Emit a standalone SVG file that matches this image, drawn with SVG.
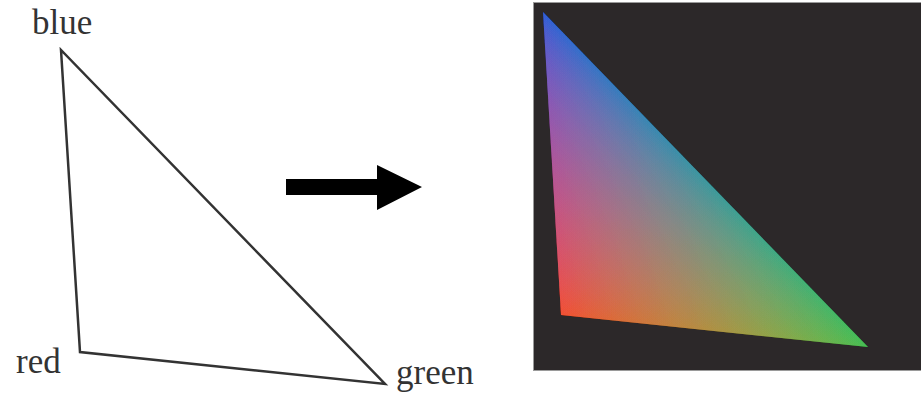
<svg xmlns="http://www.w3.org/2000/svg" width="921" height="395" viewBox="0 0 921 395">
<style>
.lbl{font-family:"Liberation Serif","Times New Roman",serif;font-size:35px;fill:#333}
.edge{fill:none;stroke:#333;stroke-width:2.5;stroke-linejoin:miter}
.add{mix-blend-mode:screen;mix-blend-mode:plus-lighter}
</style>
<defs>
<linearGradient id="gB" gradientUnits="userSpaceOnUse" x1="543" y1="12" x2="512" y2="310">
<stop offset="0" stop-color="rgb(9,29,140)"/><stop offset="1" stop-color="#000"/>
</linearGradient>
<linearGradient id="gR" gradientUnits="userSpaceOnUse" x1="561" y1="315" x2="703.2" y2="177.1">
<stop offset="0" stop-color="rgb(185,23,11)"/><stop offset="1" stop-color="#000"/>
</linearGradient>
<linearGradient id="gG" gradientUnits="userSpaceOnUse" x1="868" y1="347" x2="564" y2="365">
<stop offset="0" stop-color="rgb(23,126,29)"/><stop offset="1" stop-color="#000"/>
</linearGradient>
<filter id="toSRGB" x="0" y="0" width="1" height="1" color-interpolation-filters="sRGB">
<feComponentTransfer>
<feFuncR type="gamma" amplitude="1" exponent="0.4545" offset="0"/>
<feFuncG type="gamma" amplitude="1" exponent="0.4545" offset="0"/>
<feFuncB type="gamma" amplitude="1" exponent="0.4545" offset="0"/>
</feComponentTransfer>
<feColorMatrix type="saturate" values="1.2"/>
</filter>
</defs>
<rect width="921" height="395" fill="#fff"/>
<g id="outline-triangle">
<polygon class="edge" points="61,50 80,352 385,384"/>
</g>
<g id="label-blue"><text class="lbl" x="32" y="34">blue</text></g>
<g id="label-red"><text class="lbl" x="16" y="373">red</text></g>
<g id="label-green"><text class="lbl" x="396" y="384">green</text></g>
<g id="connectors">
<polygon points="286,179 377,179 377,165 422,187 377,210 377,195 286,195" fill="#000"/>
</g>
<g id="rendered-panel">
<rect x="533.5" y="2.5" width="395" height="368" fill="#2c2829" stroke="#9a9a9a" stroke-width="1"/>
<g style="isolation:isolate" filter="url(#toSRGB)">
<polygon points="543,12 561,315 868,347" fill="#000"/>
<polygon class="add" points="543,12 561,315 868,347" fill="url(#gB)"/>
<polygon class="add" points="543,12 561,315 868,347" fill="url(#gR)"/>
<polygon class="add" points="543,12 561,315 868,347" fill="url(#gG)"/>
</g>
</g>
</svg>
